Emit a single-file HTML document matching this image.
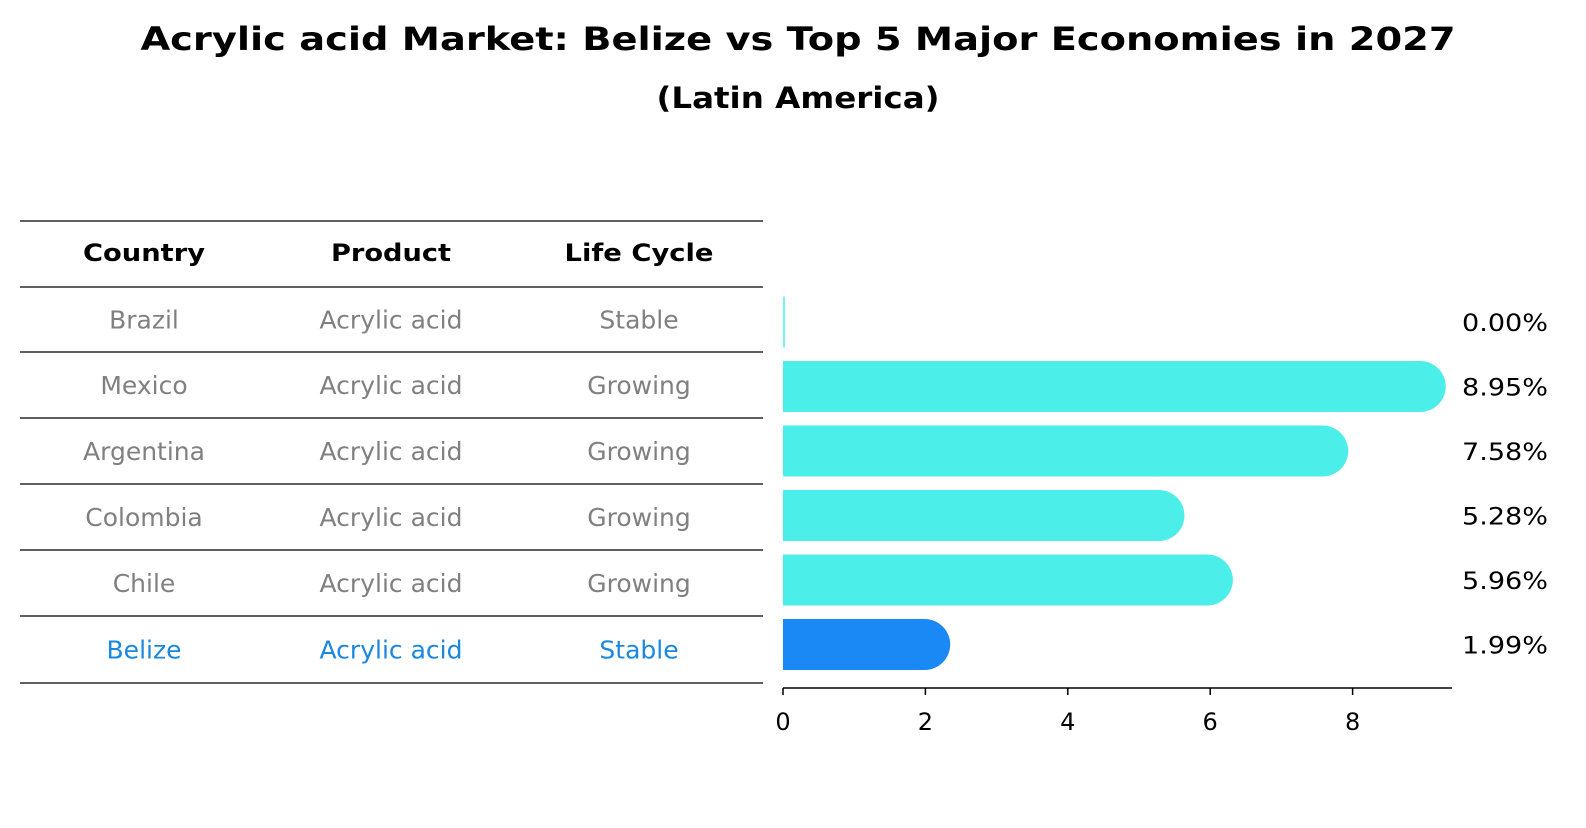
<!DOCTYPE html>
<html><head><meta charset="utf-8"><style>
body{margin:0;background:#fff;font-family:"Liberation Sans","DejaVu Sans",sans-serif;}
svg text{font-family:"DejaVu Sans","Liberation Sans",sans-serif;}
</style></head><body>
<svg width="1586" height="823" xmlns="http://www.w3.org/2000/svg">
<rect width="1586" height="823" fill="#fff"/>
<text x="798" y="50" text-anchor="middle" font-size="32" font-weight="bold" textLength="1315" lengthAdjust="spacingAndGlyphs">Acrylic acid Market: Belize vs Top 5 Major Economies in 2027</text>
<text x="798" y="108" text-anchor="middle" font-size="29" font-weight="bold" textLength="283" lengthAdjust="spacingAndGlyphs">(Latin America)</text>
<g id="table"></g>
<g id="bars"></g>
</svg>
<script>
const countries=["Brazil","Mexico","Argentina","Colombia","Chile","Belize"];
const products=["Acrylic acid","Acrylic acid","Acrylic acid","Acrylic acid","Acrylic acid","Acrylic acid"];
const lifecycles=["Stable","Growing","Growing","Growing","Growing","Stable"];
const values=[0.00,8.95,7.58,5.28,5.96,1.99];
const xTicks=[0,2,4,6,8];
const NS="http://www.w3.org/2000/svg";
function mk(t,a,p){const e=document.createElementNS(NS,t);for(const k in a)e.setAttribute(k,a[k]);p.appendChild(e);return e;}
const tbl=document.getElementById('table');
const lines=[221,287,352,418,484,550,616,683];
lines.forEach(y=>{const l=mk('line',{x1:20,x2:763,y1:y,y2:y,stroke:'#000','stroke-width':1.2},tbl);

});
const cols=[144,391,639];
const hw=[122,120,149];
["Country","Product","Life Cycle"].forEach((h,i)=>{const t=mk('text',{x:cols[i],y:261,'text-anchor':'middle','font-size':24,'font-weight':'bold',textLength:hw[i],lengthAdjust:'spacingAndGlyphs'},tbl);t.textContent=h;

});
countries.forEach((c,r)=>{const y=(lines[r+1]+lines[r+2])/2+9;const col=c==="Belize"?"#1a88e0":"#808080";
[c,products[r],lifecycles[r]].forEach((v,i)=>{const t=mk('text',{x:cols[i],y:y,'text-anchor':'middle','font-size':25,fill:col},tbl);t.textContent=v;

});});
const g=document.getElementById('bars');
const x0=783,ppu=71.2;
const X=v=>x0+v*ppu;
const rowY=r=>322+r*64.5;
const h=51;
values.forEach((v,r)=>{const cy=rowY(r);const col=countries[r]==="Belize"?"#1a88f5":"#4beee9";
if(v>0){const rc=mk('rect',{x:x0,y:cy-h/2,width:X(v)-x0,height:h,fill:col},g);


const ci=mk('circle',{cx:X(v),cy:cy,r:h/2,fill:col},g);

}
else{const ln=mk('line',{x1:x0+1,x2:x0+1,y1:cy-h/2,y2:cy+h/2,stroke:col,'stroke-width':1.5},g);

}
const t=mk('text',{x:1462,y:cy+9,'font-size':24,textLength:86,lengthAdjust:'spacingAndGlyphs'},g);t.textContent=v.toFixed(2)+'%';

});
const ax=mk('line',{x1:x0,x2:1452,y1:688,y2:688,stroke:'#000','stroke-width':1.5},g);


xTicks.forEach(v=>{const tk=mk('line',{x1:X(v),x2:X(v),y1:688,y2:695,stroke:'#000','stroke-width':1.5},g);


const t=mk('text',{x:X(v),y:730,'text-anchor':'middle','font-size':24},g);t.textContent=v;

});
</script>
</body></html>
